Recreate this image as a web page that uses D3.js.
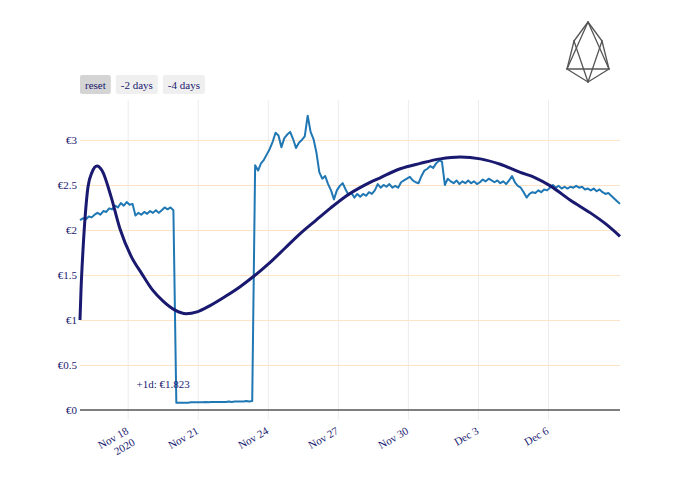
<!DOCTYPE html>
<html>
<head>
<meta charset="utf-8">
<script src="https://cdn.jsdelivr.net/npm/d3@7"></script>
<style>
  body { margin: 0; background: #fff; }
  text { font-family: "Liberation Serif", "Times New Roman", serif; }
</style>
</head>
<body>
<svg id="chart" width="700" height="500"></svg>
<script>
`use strict`;

// EOS price, one reading every 3 hours from 2020-11-15 23:00
const seriesStart = `2020-11-15 23:00`;
const stepHours = 3;

const prices = [
  2.11, 2.13, 2.12, 2.15, 2.14, 2.17, 2.19, 2.17, 2.21, 2.20,
  2.24, 2.23, 2.27, 2.25, 2.30, 2.27, 2.31, 2.28, 2.29, 2.16,
  2.19, 2.17, 2.20, 2.18, 2.21, 2.19, 2.22, 2.19, 2.22, 2.25,
  2.23, 2.25, 2.22, 0.08, 0.08, 0.08, 0.08, 0.08, 0.085, 0.085,
  0.085, 0.085, 0.085, 0.09, 0.085, 0.09, 0.09, 0.09, 0.09, 0.09,
  0.09, 0.095, 0.09, 0.095, 0.095, 0.095, 0.095, 0.10, 0.095, 0.10,
  2.72, 2.66, 2.74, 2.78, 2.84, 2.90, 2.98, 3.08, 3.05, 2.92,
  3.02, 3.06, 3.09, 3.01, 2.91, 2.97, 3.00, 3.04, 3.27, 3.09,
  3.01, 2.86, 2.64, 2.57, 2.60, 2.51, 2.44, 2.34, 2.44, 2.49,
  2.52, 2.45, 2.39, 2.41, 2.36, 2.40, 2.37, 2.40, 2.38, 2.42,
  2.40, 2.44, 2.51, 2.47, 2.50, 2.48, 2.51, 2.47, 2.49, 2.47,
  2.53, 2.55, 2.57, 2.59, 2.55, 2.53, 2.52, 2.60, 2.66, 2.68,
  2.71, 2.69, 2.74, 2.77, 2.76, 2.50, 2.57, 2.54, 2.52, 2.55,
  2.51, 2.54, 2.52, 2.55, 2.52, 2.54, 2.51, 2.53, 2.56, 2.54,
  2.57, 2.55, 2.53, 2.55, 2.52, 2.54, 2.51, 2.55, 2.60, 2.53,
  2.49, 2.47, 2.42, 2.36, 2.40, 2.42, 2.41, 2.44, 2.42, 2.45,
  2.44, 2.47, 2.50, 2.47, 2.49, 2.46, 2.48, 2.46, 2.48, 2.47,
  2.49, 2.47, 2.48, 2.45, 2.46, 2.44, 2.46, 2.43, 2.45, 2.42,
  2.40, 2.41, 2.38, 2.35, 2.32, 2.29
];

// fitted trend, days after seriesStart
const trendDays = [
  0, 0.043, 0.129, 0.236, 0.343, 0.514, 0.729, 0.943, 1.329, 1.714,
  2.186, 2.657, 3.086, 3.557, 4.071, 4.543, 5.014, 5.571, 6.214, 6.857,
  7.414, 8.143, 8.786, 9.429, 10.114, 10.714, 11.357, 12.129, 12.857, 13.714,
  14.571, 15.429, 16.286, 17.143, 18.0, 18.857, 19.5, 20.143, 21.0, 21.857,
  22.5, 23.125
];
const trendPrices = [
  1.00, 1.33, 1.78, 2.20, 2.48, 2.64, 2.71, 2.66, 2.37, 2.01,
  1.71, 1.51, 1.34, 1.21, 1.11, 1.07, 1.09, 1.16, 1.26, 1.37,
  1.48, 1.64, 1.80, 1.96, 2.11, 2.24, 2.37, 2.49, 2.58, 2.68,
  2.74, 2.79, 2.81, 2.79, 2.73, 2.64, 2.58, 2.49, 2.33, 2.19,
  2.07, 1.93
];

const xTicks = [`2020-11-18`, `2020-11-21`, `2020-11-24`, `2020-11-27`, `2020-11-30`, `2020-12-03`, `2020-12-06`];
const yTicks = [0, 0.5, 1, 1.5, 2, 2.5, 3];
const yMax = 3.444;

const buttons = [`reset`, `-2 days`, `-4 days`];
const note = { text: `+1d: €1.823`, at: `2020-11-18 09:00`, price: 0.29 };

(function () {

  const navy = `#191970`;

  const parseT = d3.timeParse(`%Y-%m-%d %H:%M`);
  const parseD = d3.timeParse(`%Y-%m-%d`);

  const t0 = parseT(seriesStart);

  const series = prices.map((v, i) => ({ date: d3.timeHour.offset(t0, i * stepHours), v: v }));

  const trend = trendDays.map((d, i) => ({ date: d3.timeMinute.offset(t0, Math.round(d * 1440)), v: trendPrices[i] }));

  const M = { l: 80, r: 620, t: 100, b: 410 };

  const svg = d3.select(`#chart`);

  const x = d3.scaleTime()
    .domain([series[0].date, series[series.length - 1].date])
    .range([M.l, M.r]);

  const y = d3.scaleLinear()
    .domain([0, yMax])
    .range([M.b, M.t]);

  // vertical grid + ticks
  let gx = svg.append(`g`)
    .attr(`transform`, `translate(0,${M.b})`)
    .call(d3.axisBottom(x)
      .tickValues(xTicks.map(parseD))
      .tickSizeOuter(0)
      .tickFormat(``));

  gx.select(`.domain`).remove();

  gx.selectAll(`.tick line`)
    .attr(`y1`, -(M.b - M.t))
    .attr(`y2`, 10)
    .attr(`stroke`, `#ececec`)
    .attr(`stroke-width`, 1);

  let fmt = d3.timeFormat(`%b %-d`);

  gx.selectAll(`.tick`).each(function (d, i) {

    let t = d3.select(this).append(`text`)
      .attr(`transform`, `translate(1,23) rotate(-30)`)
      .attr(`text-anchor`, `end`)
      .attr(`fill`, navy)
      .style(`font-size`, `11px`);

    t.append(`tspan`).attr(`x`, 0).text(fmt(d));

    if (i === 0) t.append(`tspan`).attr(`x`, 0).attr(`dy`, `1.2em`).text(d3.timeFormat(`%Y`)(d));
  });

  // horizontal grid + labels
  let gy = svg.append(`g`)
    .attr(`transform`, `translate(${M.l},0)`)
    .call(d3.axisLeft(y)
      .tickValues(yTicks)
      .tickSizeInner(-(M.r - M.l))
      .tickSizeOuter(0)
      .tickPadding(3)
      .tickFormat(d => `€${d}`));

  gy.select(`.domain`).remove();

  gy.selectAll(`.tick line`)
    .attr(`stroke`, d => d === 0 ? `none` : `#fde4c8`)
    .attr(`stroke-width`, 1);

  gy.selectAll(`.tick text`)
    .attr(`fill`, navy)
    .style(`font-size`, `11px`)
    .style(`font-family`, `"Liberation Serif", serif`);

  // zero line
  svg.append(`line`)
    .attr(`x1`, M.l).attr(`x2`, M.r)
    .attr(`y1`, y(0)).attr(`y2`, y(0))
    .attr(`stroke`, `#555`)
    .attr(`stroke-width`, 1.5);

  // price
  svg.append(`path`)
    .datum(series)
    .attr(`d`, d3.line().x(d => x(d.date)).y(d => y(d.v)))
    .attr(`fill`, `none`)
    .attr(`stroke`, `#1f77b4`)
    .attr(`stroke-width`, 2)
    .attr(`stroke-linejoin`, `round`);

  // trend
  svg.append(`path`)
    .datum(trend)
    .attr(`d`, d3.line().curve(d3.curveMonotoneX).x(d => x(d.date)).y(d => y(d.v)))
    .attr(`fill`, `none`)
    .attr(`stroke`, navy)
    .attr(`stroke-width`, 3);

  // note
  svg.append(`text`)
    .attr(`x`, x(parseT(note.at)))
    .attr(`y`, y(note.price))
    .attr(`dy`, `0.35em`)
    .attr(`fill`, navy)
    .style(`font-size`, `11px`)
    .text(note.text);

  // range buttons
  let bx = M.l;

  buttons.forEach((b, i) => {

    let g = svg.append(`g`).attr(`transform`, `translate(${bx},75)`);

    let t = g.append(`text`)
      .attr(`y`, 13.5)
      .attr(`fill`, navy)
      .style(`font-size`, `11px`)
      .text(b);

    let w = t.node().getComputedTextLength() + 10;

    g.insert(`rect`, `text`)
      .attr(`width`, w)
      .attr(`height`, 19)
      .attr(`rx`, 2)
      .attr(`fill`, i === 0 ? `#d4d4d4` : `#efefef`);

    t.attr(`x`, 5);

    bx += w + 5;
  });

  // EOS logo
  let P = { T: [588, 22], UL: [574, 41], UR: [602, 41], LL: [567, 69], LR: [609, 69], B: [588, 82] };

  let edges = [[`T`, `UL`], [`T`, `UR`], [`UL`, `LL`], [`UR`, `LR`], [`LL`, `B`], [`LR`, `B`],
    [`LL`, `LR`], [`T`, `LL`], [`T`, `LR`], [`UL`, `B`], [`UR`, `B`]];

  svg.append(`g`).selectAll(`line`).data(edges)
    .enter()
    .append(`line`)
    .attr(`x1`, d => P[d[0]][0]).attr(`y1`, d => P[d[0]][1])
    .attr(`x2`, d => P[d[1]][0]).attr(`y2`, d => P[d[1]][1])
    .attr(`stroke`, `#555`)
    .attr(`stroke-width`, 1.3)
    .attr(`stroke-linecap`, `round`);
})();
</script>
</body>
</html>
